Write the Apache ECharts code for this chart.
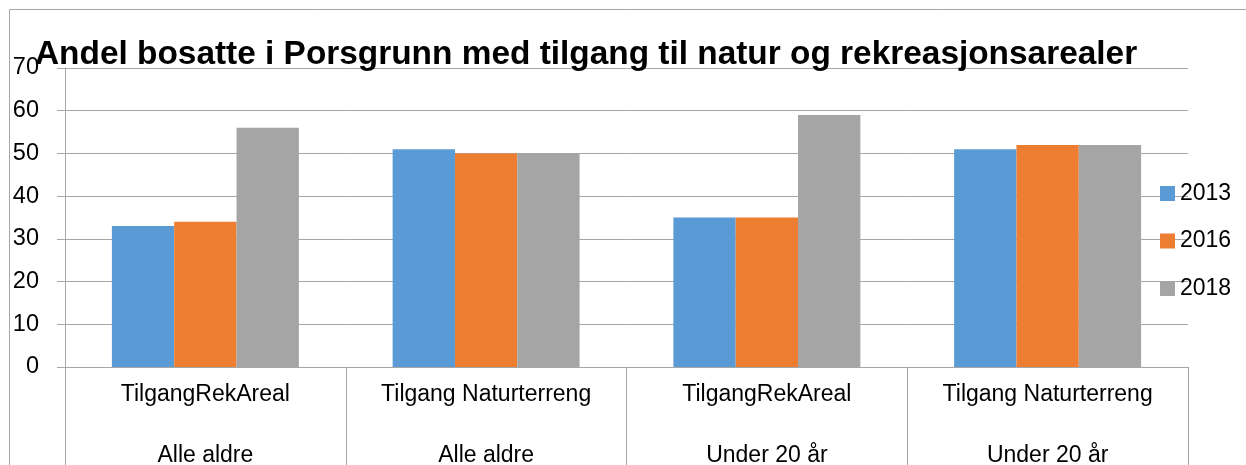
<!DOCTYPE html>
<html><head><meta charset="utf-8">
<script src="https://cdn.jsdelivr.net/npm/echarts@6/dist/echarts.min.js"></script>
<style>html,body{margin:0;padding:0;background:#fff}#c{width:1246px;height:465px}</style>
</head><body><div id="c"></div>
<script>
const title = 'Andel bosatte i Porsgrunn med tilgang til natur og rekreasjonsarealer';
const categories = ['TilgangRekAreal', 'Tilgang Naturterreng', 'TilgangRekAreal', 'Tilgang Naturterreng'];
const groups = ['Alle aldre', 'Alle aldre', 'Under 20 år', 'Under 20 år'];
const seriesNames = ['2013', '2016', '2018'];
const v2013 = [33, 51, 35, 51];
const v2016 = [34, 50, 35, 52];
const v2018 = [56, 50, 59, 52];
const yTicks = [0, 10, 20, 30, 40, 50, 60, 70];

const colors = ['#5B9BD5', '#ED7D31', '#A5A5A5'];
const values = [v2013, v2016, v2018];
const font = 'Liberation Sans';
const chart = echarts.init(document.getElementById('c'), null, {renderer: 'canvas'});
chart.setOption({
  animation: false,
  color: colors,
  title: {
    text: title, left: 30, top: 31,
    textStyle: {fontFamily: font, fontWeight: 'bold', fontSize: 33.4, color: '#000', lineHeight: 38}
  },
  graphic: [{type: 'rect', shape: {x: 9.5, y: 9.5, width: 1300, height: 500}, style: {fill: 'none', stroke: '#a6a6a6', lineWidth: 1}, z: -1}],
  legend: {
    orient: 'vertical', left: 1155, top: 177, itemWidth: 15, itemHeight: 15, itemGap: 24.5,
    icon: 'rect', data: seriesNames,
    textStyle: {fontFamily: font, fontSize: 23, color: '#000', lineHeight: 23}
  },
  grid: {left: 65, right: 58, top: 68, bottom: 98, containLabel: false, outerBoundsMode: 'none'},
  xAxis: {
    type: 'category', data: categories.map((c, i) => c + '\n\n' + groups[i]),
    axisLine: {show: true, lineStyle: {color: '#a6a6a6', width: 1}},
    axisTick: {show: true, alignWithLabel: false, interval: 0, length: 100, lineStyle: {color: '#a6a6a6'}},
    axisLabel: {interval: 0, margin: 12, fontFamily: font, fontSize: 23, color: '#000', lineHeight: 30.5}
  },
  yAxis: {
    type: 'value', min: yTicks[0], max: yTicks[yTicks.length - 1], interval: 10,
    axisLine: {show: true, lineStyle: {color: '#a6a6a6'}},
    axisTick: {show: true, length: 8, lineStyle: {color: '#a6a6a6'}},
    splitLine: {show: true, lineStyle: {color: '#a6a6a6'}},
    axisLabel: {margin: 26, fontFamily: font, fontSize: 23.5, color: '#000'}
  },
  series: seriesNames.map((n, i) => ({
    name: n, type: 'bar', data: values[i], barGap: '0%', barCategoryGap: '33.4%',
    itemStyle: {color: colors[i]}
  }))
});
</script></body></html>
